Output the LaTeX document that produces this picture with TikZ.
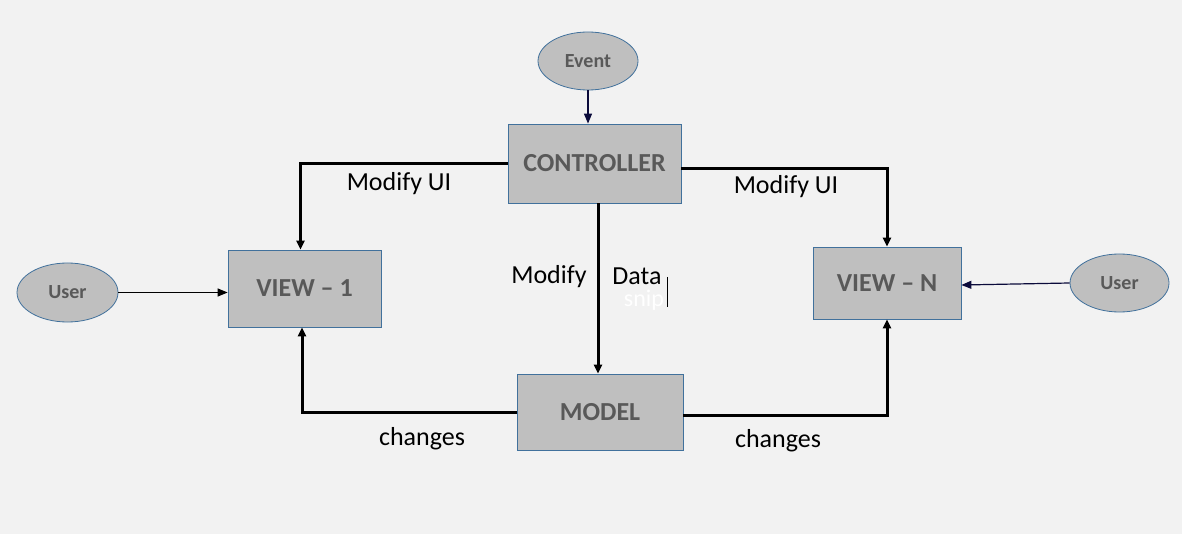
\documentclass[tikz,border=0pt]{standalone}
\usepackage{fontspec}
\setmainfont{Carlito}
\usetikzlibrary{arrows.meta,shapes.geometric}
\definecolor{bgcol}{HTML}{F2F2F2}
\definecolor{boxcol}{HTML}{BFBFBF}
\definecolor{edgecol}{HTML}{41719C}
\definecolor{txtcol}{HTML}{595959}
\definecolor{navy}{HTML}{0B0B3B}

\begin{document}
\begin{tikzpicture}[x=1pt,y=-1pt,
block/.style={rectangle,draw=edgecol,fill=boxcol,line width=0.8pt,text=txtcol,
 font=\fontsize{26}{30}\selectfont\bfseries},
actor/.style={ellipse,draw=edgecol,fill=boxcol,line width=0.8pt,text=txtcol,inner sep=0pt,
 font=\fontsize{20}{24}\selectfont\bfseries},
flow/.style={-{Triangle[length=9pt,width=8pt]},line width=3pt},
thin flow/.style={-{Triangle[length=10pt,width=8pt]},line width=1.2pt},
lbl/.style={font=\fontsize{26}{30}\selectfont,inner sep=1pt}]
 \fill[bgcol] (0,0) rectangle (1182,534);
 \useasboundingbox (0,0) rectangle (1182,534);
 % boxes
 \node[block,minimum width=173pt,minimum height=79pt] (ctrl) at (594.5,163.5) {CONTROLLER};
 \node[block,minimum width=153pt,minimum height=77pt] (view1) at (304.5,288.5) {VIEW -- 1};
 \node[block,minimum width=148pt,minimum height=72pt] (viewN) at (887,283) {VIEW -- N};
 \node[block,minimum width=166pt,minimum height=76pt] (model) at (600,412) {MODEL};
 % ellipses
 \node[actor,minimum width=100pt,minimum height=58pt] (event) at (588,61) {Event};
 \node[actor,minimum width=101pt,minimum height=59pt] (userL) at (67.5,292.5) {User};
 \node[actor,minimum width=99pt,minimum height=58pt] (userR) at (1119.5,283) {User};
 % thin arrows
 \draw[thin flow,navy] (event.south) -- (event.south |- ctrl.north);
 \draw[thin flow,black] (userL.east) -- (userL.east -| view1.west);
 \draw[thin flow,navy] (userR.west) -- ([yshift=-2pt]viewN.east);
 % thick arrows
 \draw[flow] (ctrl.west) -| ([xshift=-4pt]view1.north);
 \draw[flow] ([yshift=-5.5pt]ctrl.east) -| (viewN.north);
 \draw[flow] ([xshift=3.5pt]ctrl.south) -- ([xshift=-2pt]model.north);
 \draw[flow] (model.west) -| ([xshift=-2.5pt]view1.south);
 \draw[flow] ([yshift=-3pt]model.east) -| (viewN.south);
 % labels
 \node[lbl] (mui1) at (399,184) {Modify UI};
 \node[lbl] (muiN) at (786,187) {Modify UI};
 \node[lbl] (mod) at (549,277) {Modify};
 \node[lbl,inner sep=0pt] (data) at (637,276) {Data};
 \node[text=white,inner sep=0pt,font=\fontsize{24}{26}\selectfont] (snip) at (644,300) {snip};
 \coordinate (cur) at (667,277);
 \draw[line width=0.8pt] (cur) -- ++(0,30);
 \node[lbl] (chg1) at (422,439) {changes};
 \node[lbl] (chgN) at (778,441) {changes};
\end{tikzpicture}
\end{document}
